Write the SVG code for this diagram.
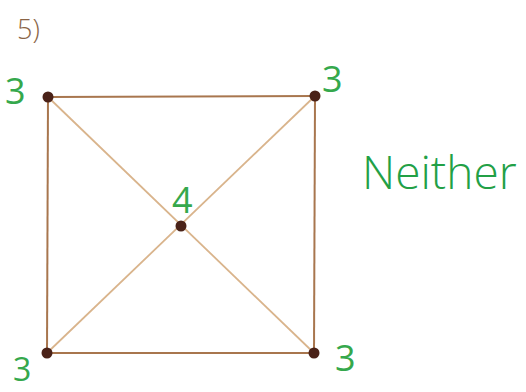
<svg xmlns="http://www.w3.org/2000/svg" width="526" height="392" viewBox="0 0 526 392">
<style>
.side{stroke:#a8764e;stroke-width:2;fill:none}
.diag{stroke:#d9b48c;stroke-width:1.8;fill:none}
.node{fill:#4a2218}
.deg{fill:#35a84c;font-family:"Open Sans",sans-serif;font-size:36px}
.title{fill:#8a6446;font-family:"Open Sans",sans-serif;font-size:27px;font-weight:300}
.ans{fill:#22a046;font-family:"Open Sans",sans-serif;font-size:46px;font-weight:300}
</style>
<rect width="526" height="392" fill="#ffffff"/>
<text class="title" x="17" y="39">5)</text>
<g id="connectors">
<line class="side" x1="48" y1="97" x2="315" y2="96"/>
<line class="side" x1="48" y1="97" x2="47" y2="353"/>
<line class="side" x1="315" y1="96" x2="314" y2="353"/>
<line class="side" x1="47" y1="353" x2="314" y2="353"/>
<line class="diag" x1="48" y1="97" x2="314" y2="353"/>
<line class="diag" x1="315" y1="96" x2="47" y2="353"/>
</g>
<g id="n-tl"><circle class="node" cx="48" cy="97" r="5.5"/><text class="deg" x="5" y="104">3</text></g>
<g id="n-tr"><circle class="node" cx="315" cy="96" r="5.5"/><text class="deg" x="322" y="92">3</text></g>
<g id="n-c"><circle class="node" cx="181" cy="226" r="5.5"/><text class="deg" x="172" y="213">4</text></g>
<g id="n-bl"><circle class="node" cx="47" cy="353" r="5.5"/><text class="deg" x="13" y="381" style="font-size:32px">3</text></g>
<g id="n-br"><circle class="node" cx="314" cy="353" r="5.5"/><text class="deg" x="335" y="371">3</text></g>
<text class="ans" x="362" y="189">Neither</text>
</svg>
